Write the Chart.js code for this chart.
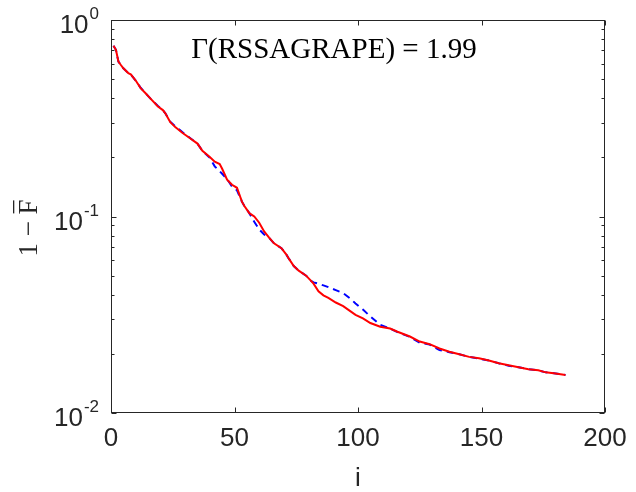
<!DOCTYPE html>
<html>
<head>
<meta charset="utf-8">
<script src="https://cdn.jsdelivr.net/npm/chart.js@4.4.1/dist/chart.umd.min.js"></script>
<style>
  html, body { margin: 0; padding: 0; background: #ffffff; }
  #c { display: block; }
</style>
</head>
<body>
<canvas id="c" width="636" height="492"></canvas>
<script>
// Iteration index and infidelity 1 - F̄ for the two runs
const iterations = [1, 2, 3, 4, 5, 7, 8, 10, 12, 14, 16, 19, 21, 22, 24, 26, 29, 32, 35, 37,
  40, 42, 44, 45, 47, 49, 51, 53, 54, 56, 58, 60, 62, 64, 66, 69, 71, 72, 74, 76,
  79, 81, 82, 84, 86, 88, 91, 94, 97, 99, 102, 105, 109, 113, 116, 121, 125, 129, 133, 137,
  141, 145, 149, 153, 157, 161, 165, 169, 173, 176, 180, 184];

const solidRun = [0.740, 0.705, 0.615, 0.590, 0.568, 0.537, 0.529, 0.492, 0.450, 0.424,
  0.398, 0.363, 0.348, 0.335, 0.302, 0.285, 0.266, 0.250, 0.235, 0.216,
  0.201, 0.190, 0.185, 0.175, 0.154, 0.145, 0.140, 0.119, 0.113, 0.104,
  0.100, 0.093, 0.084, 0.078, 0.073, 0.069, 0.064, 0.061, 0.056, 0.053,
  0.050, 0.047, 0.0455, 0.0416, 0.0397, 0.0385, 0.0365, 0.0350, 0.0329, 0.0316,
  0.0303, 0.0287, 0.0275, 0.0269, 0.0259, 0.0245, 0.0231, 0.0224, 0.0213, 0.0205,
  0.0199, 0.0193, 0.0190, 0.0185, 0.0179, 0.0175, 0.0171, 0.0167, 0.0165, 0.0161,
  0.0159, 0.0156];

const dashedRun = [0.740, 0.705, 0.615, 0.590, 0.568, 0.537, 0.529, 0.492, 0.452, 0.424,
  0.398, 0.365, 0.348, 0.335, 0.304, 0.288, 0.268, 0.251, 0.235, 0.216,
  0.199, 0.180, 0.170, 0.165, 0.155, 0.142, 0.136, 0.119, 0.113, 0.104,
  0.094, 0.086, 0.081, 0.078, 0.073, 0.069, 0.064, 0.061, 0.056, 0.053,
  0.050, 0.047, 0.0462, 0.0455, 0.0446, 0.0437, 0.0422, 0.0407, 0.0381, 0.0361,
  0.0336, 0.0310, 0.0281, 0.0269, 0.0258, 0.0244, 0.0228, 0.0223, 0.0209, 0.0204,
  0.0199, 0.0193, 0.0189, 0.0185, 0.0179, 0.0174, 0.0171, 0.0167, 0.0165, 0.0161,
  0.0159, 0.0156];

const xTickValues = [0, 50, 100, 150, 200];
const yDecadeExponents = [-2, -1, 0];
const xAxisLabel = 'i';
const annotation = 'Γ(RSSAGRAPE) = 1.99';

const axisColor = '#262626';
const sansFont = '"Liberation Sans", Arial, Helvetica, sans-serif';
const serifFont = '"Liberation Serif", "Times New Roman", serif';

function toPoints(xs, ys) {
  return xs.map((x, k) => ({ x: x, y: ys[k] }));
}

// Draws the boxed axes, inward ticks, tick labels and text annotations
const axesFrame = {
  id: 'axesFrame',
  afterDatasetsDraw(chart) {
    const { ctx, chartArea: a, scales: { x, y } } = chart;
    const L = Math.round(a.left) + 0.5;
    const R = Math.round(a.right) - 0.5;
    const T = Math.round(a.top) + 0.5;
    const B = Math.round(a.bottom) - 0.5;
    ctx.save();
    ctx.strokeStyle = axisColor;
    ctx.lineWidth = 1;
    ctx.strokeRect(L, T, R - L, B - T);

    ctx.beginPath();
    xTickValues.forEach(v => {
      const px = Math.round(x.getPixelForValue(v)) + 0.5;
      ctx.moveTo(px, B); ctx.lineTo(px, B - 5);
      ctx.moveTo(px, T); ctx.lineTo(px, T + 5);
    });
    yDecadeExponents.forEach(e => {
      const py = Math.round(y.getPixelForValue(Math.pow(10, e))) + 0.5;
      ctx.moveTo(L, py); ctx.lineTo(L + 5, py);
      ctx.moveTo(R, py); ctx.lineTo(R - 5, py);
      if (e < 0) {
        for (let k = 2; k <= 9; k++) {
          const pm = Math.round(y.getPixelForValue(k * Math.pow(10, e))) + 0.5;
          ctx.moveTo(L, pm); ctx.lineTo(L + 3, pm);
          ctx.moveTo(R, pm); ctx.lineTo(R - 3, pm);
        }
      }
    });
    ctx.stroke();

    // x tick labels
    ctx.fillStyle = axisColor;
    ctx.font = '26px ' + sansFont;
    ctx.textAlign = 'center';
    ctx.textBaseline = 'alphabetic';
    xTickValues.forEach(v => {
      ctx.fillText(String(v), x.getPixelForValue(v), 446);
    });

    // y tick labels as 10 with a superscript exponent
    yDecadeExponents.forEach(e => {
      const py = y.getPixelForValue(Math.pow(10, e));
      const sup = String(e);
      ctx.font = '17px ' + sansFont;
      const wSup = ctx.measureText(sup).width;
      ctx.textAlign = 'left';
      const right = 99;
      ctx.fillText(sup, right - wSup, py - 1);
      ctx.font = '26px ' + sansFont;
      const wBase = ctx.measureText('10').width;
      ctx.fillText('10', right - wSup - wBase - 1, py + 13);
    });

    // x axis label
    ctx.font = '26px ' + sansFont;
    ctx.textAlign = 'center';
    ctx.fillText(xAxisLabel, (a.left + a.right) / 2, 486);

    // y axis label: 1 − F with an overbar
    ctx.save();
    ctx.translate(37, 228);
    ctx.rotate(-Math.PI / 2);
    ctx.font = '27px ' + serifFont;
    const head = '1 \u2212 ';
    const wHead = ctx.measureText(head).width;
    const wF = ctx.measureText('F').width;
    const total = wHead + wF;
    ctx.textAlign = 'left';
    ctx.fillText(head + 'F', -total / 2, 0);
    ctx.fillRect(-total / 2 + wHead + 1, -24, wF - 2, 1.3);
    ctx.restore();

    // in-plot annotation
    ctx.fillStyle = '#000000';
    ctx.font = '29px ' + serifFont;
    ctx.textAlign = 'center';
    ctx.fillText(annotation, 334, 58);
    ctx.restore();
  }
};

new Chart(document.getElementById('c'), {
  type: 'line',
  data: {
    datasets: [
      {
        label: 'solid',
        data: toPoints(iterations, solidRun),
        borderColor: '#ff0000',
        borderWidth: 2,
        pointRadius: 0,
        tension: 0,
        fill: false
      },
      {
        label: 'dashed',
        data: toPoints(iterations, dashedRun),
        borderColor: '#0000ff',
        borderWidth: 2,
        borderDash: [7, 5],
        pointRadius: 0,
        tension: 0,
        fill: false
      }
    ]
  },
  options: {
    responsive: false,
    animation: false,
    devicePixelRatio: 1,
    layout: { padding: { left: 111, right: 31, top: 20, bottom: 79 } },
    plugins: { legend: { display: false }, tooltip: { enabled: false } },
    scales: {
      x: { type: 'linear', min: 0, max: 200, display: false },
      y: { type: 'logarithmic', min: 0.01, max: 1, display: false }
    }
  },
  plugins: [axesFrame]
});
</script>
</body>
</html>
